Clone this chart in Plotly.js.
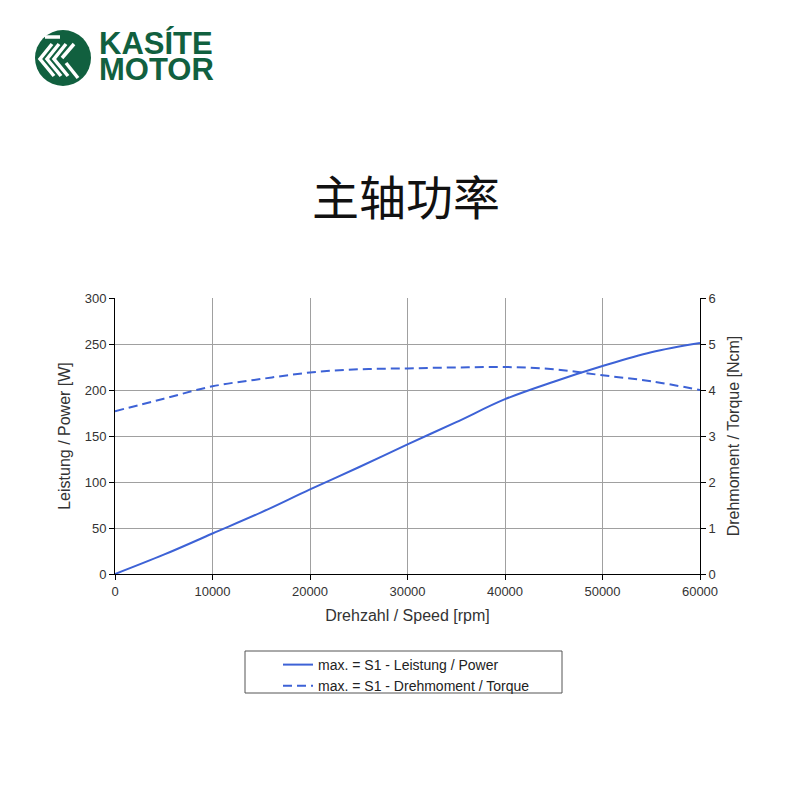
<!DOCTYPE html>
<html>
<head>
<meta charset="utf-8">
<script src="https://cdn.plot.ly/plotly-3.0.1.min.js"></script>
<style>html,body{margin:0;padding:0;background:#fff;}#chart{width:800px;height:800px;}</style>
</head>
<body>
<div id="chart"></div>
<script>
// ---- data ----
var speed = [0, 5000, 10000, 15000, 20000, 25000, 30000, 35000, 40000, 45000, 50000, 55000, 60000];
var power = [0, 21, 44, 67, 92, 116, 141, 165, 190, 209, 226, 241, 251];
var torque = [3.54, 3.81, 4.08, 4.24, 4.38, 4.45, 4.47, 4.49, 4.5, 4.45, 4.32, 4.19, 4.0];
var powerName = 'max. = S1 - Leistung / Power';
var torqueName = 'max. = S1 - Drehmoment / Torque';
var chartTitle = '主轴功率';
var xTitle = 'Drehzahl / Speed [rpm]';
var yTitle = 'Leistung / Power [W]';
var y2Title = 'Drehmoment / Torque [Ncm]';
var brand1 = 'KASÍTE';
var brand2 = 'MOTOR';

// ---- layout helpers (pixel -> paper) ----
var L = 115, R = 700, T = 298, B = 574;
function px(x) { return (x - L) / (R - L); }
function py(y) { return (B - y) / (B - T); }
function path(pts) {
  return 'M' + pts.map(function (p) { return px(p[0]) + ',' + py(p[1]); }).join(' L');
}

var blue = '#3d62d6';
var font = 'Liberation Sans, Arial, sans-serif';
var green = '#11603f';
var txt = '#333333';

var traces = [
  { x: speed, y: power, name: powerName, type: 'scatter', mode: 'lines',
    line: { color: blue, width: 2, shape: 'spline' }, yaxis: 'y' },
  { x: speed, y: torque, name: torqueName, type: 'scatter', mode: 'lines',
    line: { color: blue, width: 2, dash: '9px,5px', shape: 'spline' }, yaxis: 'y2' }
];

var white = { color: '#ffffff', width: 3.5 };
var shapes = [
  // logo circle
  { type: 'circle', xref: 'paper', yref: 'paper', x0: px(35), x1: px(91), y0: py(30), y1: py(86),
    fillcolor: green, line: { width: 0 }, layer: 'above' },
  { type: 'path', xref: 'paper', yref: 'paper', path: path([[45, 37], [60, 37]]), line: white },
  { type: 'path', xref: 'paper', yref: 'paper', path: path([[52, 44], [40, 59], [54, 76]]), line: white },
  { type: 'path', xref: 'paper', yref: 'paper', path: path([[59, 44], [47, 59], [61, 76]]), line: white },
  { type: 'path', xref: 'paper', yref: 'paper', path: path([[66, 44], [54, 59], [68, 76]]), line: white },
  { type: 'path', xref: 'paper', yref: 'paper', path: path([[74, 44], [62, 58]]), line: white },
  { type: 'path', xref: 'paper', yref: 'paper', path: path([[66, 63], [78, 78]]), line: white },
  // legend box
  { type: 'rect', xref: 'paper', yref: 'paper', x0: px(245), x1: px(562), y0: py(651), y1: py(693),
    line: { color: '#555555', width: 1 }, fillcolor: 'rgba(0,0,0,0)' }
];

var brandSpan = function (s) { return '<span style="font-size:31px"><b>' + s + '</b></span>'; };

var layout = {
  width: 800, height: 800,
  margin: { l: L, r: 800 - R, t: T, b: 800 - B, pad: 0 },
  paper_bgcolor: '#ffffff', plot_bgcolor: '#ffffff',
  font: { family: font, size: 13, color: txt },
  showlegend: true,
  legend: { x: px(278), y: py(649), xanchor: 'left', yanchor: 'top', bgcolor: 'rgba(0,0,0,0)',
    borderwidth: 0, font: { family: font, size: 14, color: '#222222' }, tracegroupgap: 0 },
  xaxis: {
    range: [0, 60000], dtick: 10000, tick0: 0, showgrid: true, gridcolor: '#a0a0a0', gridwidth: 1,
    zeroline: false, showline: true, linecolor: '#000000', linewidth: 1,
    ticks: 'outside', ticklen: 5, tickcolor: '#000000', tickformat: 'd',
    tickfont: { family: font, size: 13, color: txt },
    title: { text: xTitle, font: { family: font, size: 16, color: txt }, standoff: 12 }
  },
  yaxis: {
    range: [0, 300], dtick: 50, showgrid: true, gridcolor: '#a0a0a0', gridwidth: 1,
    zeroline: false, showline: true, linecolor: '#000000', linewidth: 1,
    ticks: 'outside', ticklen: 5, tickcolor: '#000000',
    tickfont: { family: font, size: 13, color: txt },
    title: { text: yTitle, font: { family: font, size: 16, color: txt }, standoff: 10 }
  },
  yaxis2: {
    range: [0, 6], dtick: 1, overlaying: 'y', side: 'right', showgrid: false,
    zeroline: false, showline: true, linecolor: '#000000', linewidth: 1,
    ticks: 'outside', ticklen: 5, tickcolor: '#000000',
    tickfont: { family: font, size: 13, color: txt },
    title: { text: y2Title, font: { family: font, size: 16, color: txt }, standoff: 12 }
  },
  shapes: shapes,
  annotations: [
    { text: chartTitle, xref: 'paper', yref: 'paper', x: px(406), y: py(195), showarrow: false,
      xanchor: 'center', yanchor: 'middle', font: { family: 'Noto Sans CJK SC', size: 47, color: '#111111' } },
    { text: brandSpan(brand1) + '<br>' + brandSpan(brand2), xref: 'paper', yref: 'paper',
      x: px(98), y: py(57), showarrow: false, align: 'left',
      xanchor: 'left', yanchor: 'middle', borderpad: 0,
      font: { family: font, size: 20, color: green } }
  ]
};

Plotly.newPlot('chart', traces, layout, { staticPlot: true, displayModeBar: false });
</script>
</body>
</html>
